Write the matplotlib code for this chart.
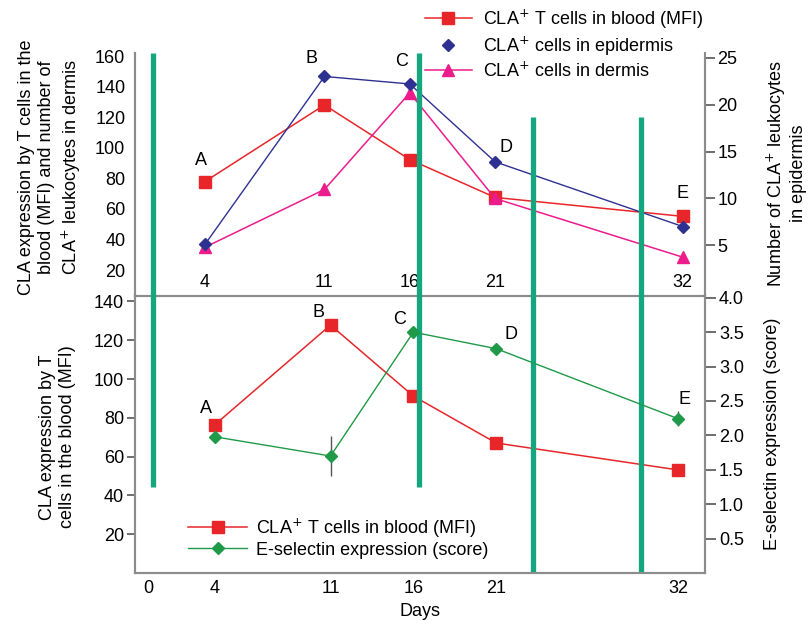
"""
Two-panel time course of CLA expression, skin leukocyte counts and E-selectin score.
"""

import matplotlib

matplotlib.use("Agg")
import matplotlib.pyplot as plt
import matplotlib.transforms as mtransforms
from matplotlib.lines import Line2D

plt.rcParams["font.family"] = ["Liberation Sans", "DejaVu Sans"]
plt.rcParams["font.size"] = 13

# ---- data -------------------------------------------------------------
days = [4, 11, 16, 21, 32]

# upper panel
blood_mfi_top = [77.9, 128.0, 92.3, 67.5, 55.1]
epidermis_cells = [5.1, 23.0, 22.2, 13.9, 7.0]
dermis_cells = [34.9, 72.7, 135.9, 66.8, 28.4]

# lower panel
blood_mfi_bottom = [76.3, 127.8, 91.2, 67.0, 53.1]
eselectin_score = [1.98, 1.70, 3.50, 3.26, 2.24]
eselectin_err = [0.0, 0.29, 0.0, 0.0, 0.11]

point_letters = ["A", "B", "C", "D", "E"]

bottom_xticks = [0, 4, 11, 16, 21, 32]
top_left_ticks = [20, 40, 60, 80, 100, 120, 140, 160]
top_right_ticks = [5, 10, 15, 20, 25]
bottom_left_ticks = [20, 40, 60, 80, 100, 120, 140]
bottom_right_ticks = [0.5, 1.0, 1.5, 2.0, 2.5, 3.0, 3.5, 4.0]

# green vertical marker bars: day, top and bottom in figure fraction
bar_days = [0.3, 16.35, 23.2, 29.75]
bar_top = [0.915, 0.915, 0.811, 0.811]
bar_bottom = [0.215, 0.215, 0.076, 0.076]

# ---- styles -----------------------------------------------------------
RED = "#e8262a"
BLUE = "#2e3192"
PINK = "#ec1c8c"
GREEN = "#1f9a48"
TEAL = "#13a67f"
SPINE = "#8c8c8c"

W, H = 809, 620
fig = plt.figure(figsize=(W / 100, H / 100), dpi=100)


def px_axes(left, top, right, bottom):
    return fig.add_axes(
        [left / W, (H - bottom) / H, (right - left) / W, (bottom - top) / H]
    )


def style_spines(axis):
    for side in ("left", "right", "bottom", "top"):
        axis.spines[side].set_color(SPINE)
        axis.spines[side].set_linewidth(1.5)
    axis.spines["top"].set_visible(False)


# ---- upper panel ------------------------------------------------------
ax_top = px_axes(135, 53, 705, 296)
ax_top.set_xlim(-0.1, 33.3)
ax_top.set_ylim(3, 162)
ax_top.patch.set_alpha(0)
style_spines(ax_top)

ax_top.plot(days, blood_mfi_top, color=RED, lw=1.1, marker="s", ms=9)
ax_top.plot(days, dermis_cells, color=PINK, lw=1.1, marker="^", ms=8)
ax_top.set_xticks(days)
ax_top.tick_params(axis="x", length=0, pad=-16)
ax_top.set_yticks(top_left_ticks)
ax_top.tick_params(axis="y", length=0, pad=7)

ax_top_r = ax_top.twinx()
ax_top_r.set_ylim(-0.4, 25.5)
style_spines(ax_top_r)
ax_top_r.spines["right"].set_bounds(-0.4, 25.0)
ax_top_r.plot(days, epidermis_cells, color=BLUE, lw=1.0, marker="D", ms=6)
ax_top_r.set_yticks(top_right_ticks)
ax_top_r.tick_params(axis="y", direction="out", length=7, width=1.2,
                     color="#555555", pad=2)

# letters on upper panel
top_letter_series = [blood_mfi_top, epidermis_cells, epidermis_cells,
                     epidermis_cells, blood_mfi_top]
top_letter_axes = [ax_top, ax_top_r, ax_top_r, ax_top_r, ax_top]
top_letter_offsets = [(-3, 9), (-9, 7), (-6, 10), (8, 4), (0, 10)]
for i, letter in enumerate(point_letters):
    top_letter_axes[i].annotate(
        letter, (days[i], top_letter_series[i][i]),
        xytext=top_letter_offsets[i], textcoords="offset points",
        ha="center", va="bottom",
    )

# ---- lower panel ------------------------------------------------------
ax_bot = px_axes(135, 295, 705, 573)
ax_bot.set_xlim(-0.8, 33.6)
ax_bot.set_ylim(0, 143.3)
ax_bot.patch.set_alpha(0)
style_spines(ax_bot)

ax_bot.plot(days, blood_mfi_bottom, color=RED, lw=1.1, marker="s", ms=9)
ax_bot.set_xticks(bottom_xticks)
ax_bot.tick_params(axis="x", length=0, pad=5)
ax_bot.set_yticks(bottom_left_ticks)
ax_bot.tick_params(axis="y", direction="out", length=6, width=1.2,
                   color="#555555", pad=2)
ax_bot.set_xlabel("Days", labelpad=4)

ax_bot_r = ax_bot.twinx()
ax_bot_r.set_ylim(0, 4.04)
style_spines(ax_bot_r)
ax_bot_r.errorbar(days, eselectin_score, yerr=eselectin_err, color=GREEN,
                  ecolor="#555555", elinewidth=1.0, capsize=0, lw=1.0,
                  marker="D", ms=6)
ax_bot_r.set_yticks(bottom_right_ticks)
ax_bot_r.set_yticklabels([f"{t:.1f}" for t in bottom_right_ticks])
ax_bot_r.tick_params(axis="y", direction="out", length=8, width=1.2,
                     color="#555555", pad=2)

bot_letter_series = [blood_mfi_bottom, blood_mfi_bottom, eselectin_score,
                     eselectin_score, eselectin_score]
bot_letter_axes = [ax_bot, ax_bot, ax_bot_r, ax_bot_r, ax_bot_r]
bot_letter_offsets = [(-6, 6), (-9, 3), (-10, 3), (11, 4), (4, 8)]
for i, letter in enumerate(point_letters):
    bot_letter_axes[i].annotate(
        letter, (days[i], bot_letter_series[i][i]),
        xytext=bot_letter_offsets[i], textcoords="offset points",
        ha="center", va="bottom",
    )

# ---- green vertical bars (drawn across both panels) --------------------
bar_transform = mtransforms.blended_transform_factory(
    ax_bot.transData, fig.transFigure
)
for day, y0, y1 in zip(bar_days, bar_bottom, bar_top):
    ax_bot.plot([day, day], [y0, y1], color=TEAL, lw=3.8,
                transform=bar_transform, clip_on=False, zorder=5,
                solid_capstyle="butt")

# ---- legends ------------------------------------------------------------
top_handles = [
    Line2D([], [], color=RED, lw=1.1, marker="s", ms=9),
    Line2D([], [], color=BLUE, ls="none", marker="D", ms=6),
    Line2D([], [], color=PINK, lw=1.1, marker="^", ms=8),
]
top_labels = [
    "CLA$^{+}$ T cells in blood (MFI)",
    "CLA$^{+}$ cells in epidermis",
    "CLA$^{+}$ cells in dermis",
]
fig.legend(
    top_handles, top_labels,
    loc="upper left", bbox_to_anchor=(0.505, 1.014), frameon=False,
    handlelength=2.6, handletextpad=0.6, labelspacing=0.2,
)

bottom_handles = [
    Line2D([], [], color=RED, lw=1.1, marker="s", ms=9),
    Line2D([], [], color=GREEN, lw=1.0, marker="D", ms=6),
]
bottom_labels = [
    "CLA$^{+}$ T cells in blood (MFI)",
    "E-selectin expression (score)",
]
fig.legend(
    bottom_handles, bottom_labels,
    loc="upper left", bbox_to_anchor=(0.212, 0.193), frameon=False,
    handlelength=3.3, handletextpad=0.5, labelspacing=0.1,
)

# ---- axis titles --------------------------------------------------------
fig.text(0.062, 0.730,
         "CLA expression by T cells in the\nblood (MFI) and number of\n"
         "CLA$^{+}$ leukocytes in dermis",
         rotation=90, ha="center", va="center", multialignment="center",
         linespacing=1.25)
fig.text(0.071, 0.295, "CLA expression by T\ncells in the blood (MFI)",
         rotation=90, ha="center", va="center", multialignment="center",
         linespacing=1.2)
fig.text(0.971, 0.720, "Number of CLA$^{+}$ leukocytes\nin epidermis",
         rotation=90, ha="center", va="center", multialignment="center",
         linespacing=1.15)
fig.text(0.955, 0.300, "E-selectin expression (score)",
         rotation=90, ha="center", va="center")

fig.savefig("out.png", dpi=100)
